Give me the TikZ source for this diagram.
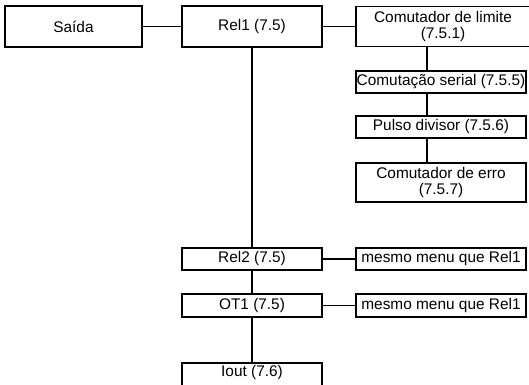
\documentclass[tikz,border=0pt]{standalone}
\usepackage{fontspec}
\setmainfont{Liberation Sans}
\begin{document}
\begin{tikzpicture}[x=1pt,y=-1pt,
  box/.style={draw,line width=1.8pt,inner sep=0pt,align=center,
    font=\fontsize{15.4}{15.5}\selectfont},
  link/.style={line width=1.8pt},
  hlink/.style={line width=1.3pt}]
\useasboundingbox (0,0) rectangle (529,384);
\clip (0,0) rectangle (529,384);
% top row
\node[box,minimum width=137pt,minimum height=41pt] (sai) at (73.5,26.5) {Saída};
\node[box,minimum width=140pt,minimum height=41pt] (rel1) at (252,26.5) {Rel1 (7.5)};
\node[box,minimum width=174pt,minimum height=40pt] (clim) at (443,26.5) {Comutador de limite\\(7.5.1)};
% submenu column of Rel1
\node[box,minimum width=170pt,minimum height=22pt] (cser) at (441,82) {Comutação serial (7.5.5)};
\node[box,minimum width=170pt,minimum height=22pt] (puls) at (441,127) {Pulso divisor (7.5.6)};
\node[box,minimum width=170pt,minimum height=39pt] (cerr) at (441,182.5) {Comutador de erro\\(7.5.7)};
% main column
\node[box,minimum width=140pt,minimum height=22pt] (rel2) at (252,259) {Rel2 (7.5)};
\node[box,minimum width=170pt,minimum height=22pt] (same1) at (441,259) {mesmo menu que Rel1};
\node[box,minimum width=140pt,minimum height=23pt] (ot1) at (252,305.5) {OT1 (7.5)};
\node[box,minimum width=170pt,minimum height=23pt] (same2) at (441,305.5) {mesmo menu que Rel1};
\node[box,minimum width=140pt,anchor=north,inner ysep=2.5pt,text depth=12pt] (iout) at (252,362) {Iout (7.6)};
% connectors
\coordinate (cx) at (427,0);
\draw[hlink] (sai.east) -- (rel1.west);
\draw[hlink] (rel1.east) -- (clim.west);
\draw[hlink] (rel2.east) -- (same1.west);
\draw[hlink] (ot1.east) -- (same2.west);
\draw[link] (rel1.south) -- (rel2.north);
\draw[link] (rel2.south) -- (ot1.north);
\draw[link] (ot1.south) -- (iout.north);
\draw[link] (clim.south -| cx) -- (cser.north -| cx);
\draw[link] (cser.south -| cx) -- (puls.north -| cx);
\draw[link] (puls.south -| cx) -- (cerr.north -| cx);
\end{tikzpicture}
\end{document}
